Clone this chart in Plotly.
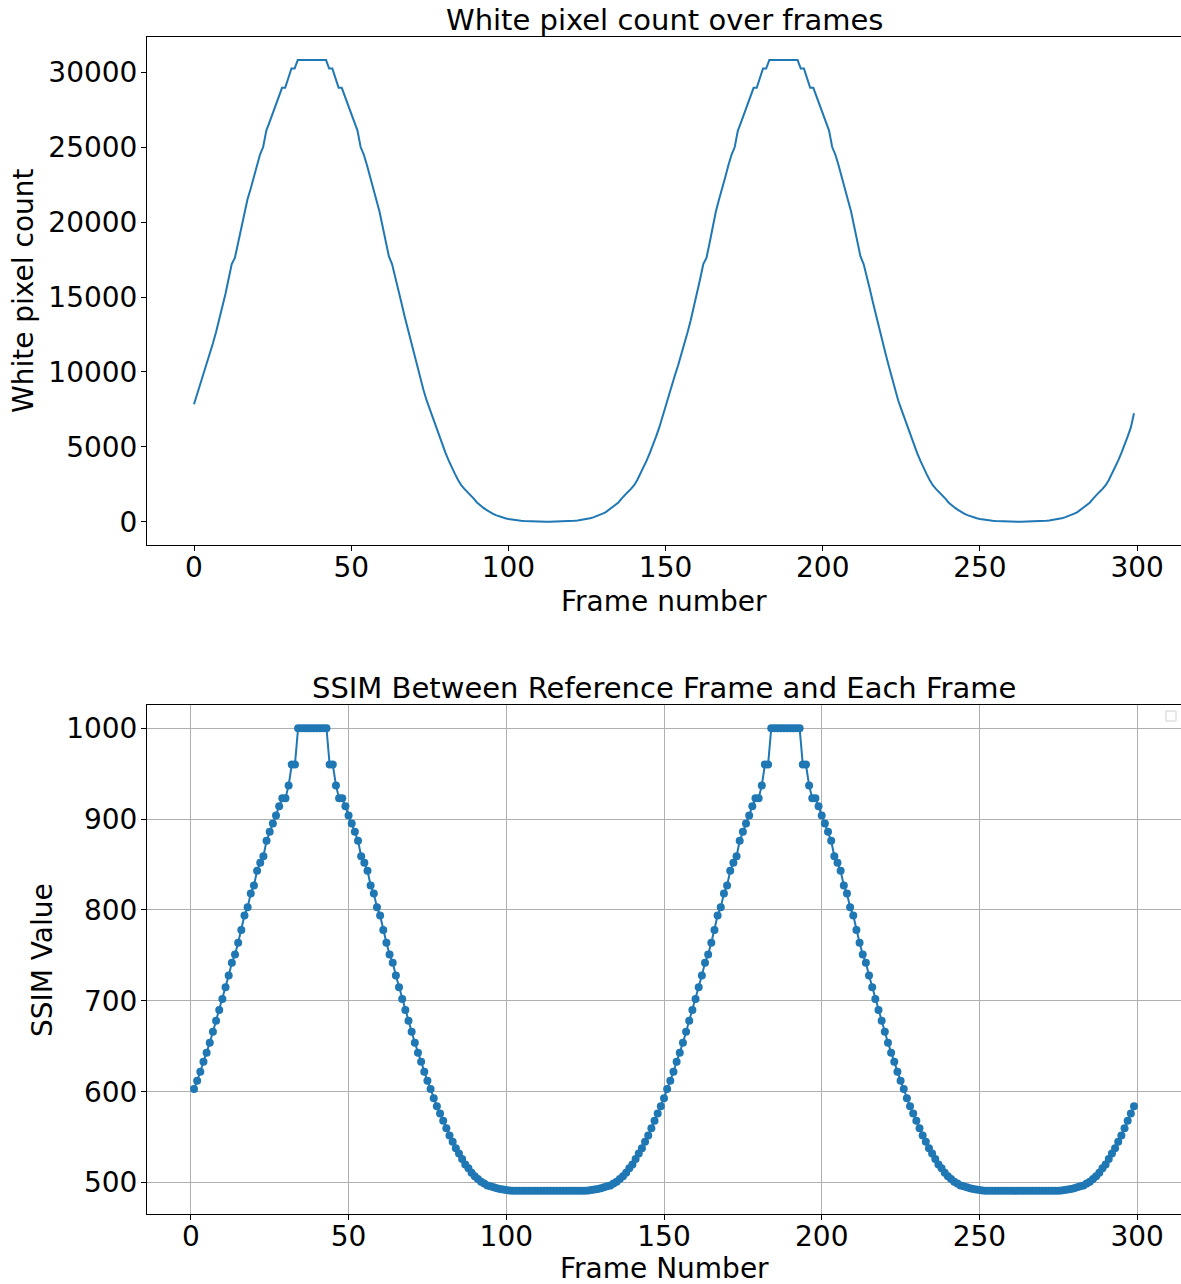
import plotly.graph_objects as go

# ---------------- data ----------------
frames_white = list(range(0, 300))
white_pixel_count = [
    7850, 8500, 9150, 9800, 10450, 11150, 11900, 12650, 13450, 14300,
    15200, 16200, 17200, 17600, 18600, 19700, 20700, 21500, 22200, 23000,
    23800, 24500, 25000, 26100, 26650, 27250, 27800, 28400, 28950, 28950,
    29600, 30240, 30240, 30800, 30800, 30800, 30800, 30800, 30800, 30800,
    30800, 30800, 30800, 30240, 30240, 29600, 28950, 28950, 28400, 27800,
    27250, 26650, 26100, 25000, 24500, 23800, 23000, 22200, 21500, 20700,
    19700, 18600, 17700, 17200, 16400, 15500, 14600, 13700, 12850, 12000,
    11200, 10400, 9600, 8800, 8100, 7500, 6900, 6300, 5700, 5100,
    4600, 4100, 3600, 3200, 2800, 2450, 2200, 2000, 1800, 1550,
    1300, 1100, 950, 800, 650, 550, 450, 370, 300, 240,
    190, 150, 120, 95, 75, 60, 45, 35, 25, 18,
    12, 8, 5, 5, 8, 12, 18, 25, 35, 45,
    60, 75, 95, 120, 150, 190, 240, 300, 370, 450,
    550, 650, 800, 950, 1100, 1300, 1550, 1800, 2000, 2200,
    2450, 2800, 3200, 3600, 4100, 4600, 5100, 5700, 6300, 7000,
    7850, 8500, 9150, 9800, 10450, 11150, 11900, 12650, 13450, 14300,
    15200, 16200, 17200, 17600, 18600, 19700, 20700, 21500, 22200, 23000,
    23800, 24500, 25000, 26100, 26650, 27250, 27800, 28400, 28950, 28950,
    29600, 30240, 30240, 30800, 30800, 30800, 30800, 30800, 30800, 30800,
    30800, 30800, 30800, 30240, 30240, 29600, 28950, 28950, 28400, 27800,
    27250, 26650, 26100, 25000, 24500, 23800, 23000, 22200, 21500, 20700,
    19700, 18600, 17700, 17200, 16400, 15500, 14600, 13700, 12850, 12000,
    11200, 10400, 9600, 8800, 8100, 7500, 6900, 6300, 5700, 5100,
    4600, 4100, 3600, 3200, 2800, 2450, 2200, 2000, 1800, 1550,
    1300, 1100, 950, 800, 650, 550, 450, 370, 300, 240,
    190, 150, 120, 95, 75, 60, 45, 35, 25, 18,
    12, 8, 5, 5, 8, 12, 18, 25, 35, 45,
    60, 75, 95, 120, 150, 190, 240, 300, 370, 450,
    550, 650, 800, 950, 1100, 1300, 1550, 1800, 2000, 2200,
    2450, 2800, 3200, 3600, 4100, 4600, 5100, 5700, 6300, 7250,
]

frames_ssim = list(range(1, 300))
ssim_values = [
    603, 612, 622, 633, 643, 654, 666, 678, 690, 702,
    715, 728, 742, 751, 764, 778, 794, 803, 818, 827,
    843, 852, 859, 876, 886, 895, 904, 914, 923, 923,
    937, 960, 960, 1000, 1000, 1000, 1000, 1000, 1000, 1000,
    1000, 1000, 1000, 960, 960, 937, 923, 923, 914, 904,
    895, 886, 876, 859, 852, 843, 827, 818, 803, 794,
    778, 764, 751, 742, 728, 715, 702, 690, 678, 666,
    654, 643, 633, 622, 612, 603, 593, 584, 576, 568,
    560, 552, 545, 538, 532, 526, 520, 516, 511, 507,
    504, 501, 499, 497, 496, 495, 494, 493, 492.5, 492,
    491.5, 491, 491, 491, 491, 491, 491, 491, 491, 491,
    491, 491, 491, 491, 491, 491, 491, 491, 491, 491,
    491, 491, 491, 491, 491, 491.5, 492, 492.5, 493, 494,
    495, 496, 497, 499, 501, 504, 507, 511, 516, 520,
    526, 532, 538, 545, 552, 560, 568, 576, 584, 593,
    603, 612, 622, 633, 643, 654, 666, 678, 690, 702,
    715, 728, 742, 751, 764, 778, 794, 803, 818, 827,
    843, 852, 859, 876, 886, 895, 904, 914, 923, 923,
    937, 960, 960, 1000, 1000, 1000, 1000, 1000, 1000, 1000,
    1000, 1000, 1000, 960, 960, 937, 923, 923, 914, 904,
    895, 886, 876, 859, 852, 843, 827, 818, 803, 794,
    778, 764, 751, 742, 728, 715, 702, 690, 678, 666,
    654, 643, 633, 622, 612, 603, 593, 584, 576, 568,
    560, 552, 545, 538, 532, 526, 520, 516, 511, 507,
    504, 501, 499, 497, 496, 495, 494, 493, 492.5, 492,
    491.5, 491, 491, 491, 491, 491, 491, 491, 491, 491,
    491, 491, 491, 491, 491, 491, 491, 491, 491, 491,
    491, 491, 491, 491, 491, 491.5, 492, 492.5, 493, 494,
    495, 496, 497, 499, 501, 504, 507, 511, 516, 520,
    526, 532, 538, 545, 552, 560, 568, 576, 584,
]

x_ticks = [0, 50, 100, 150, 200, 250, 300]
white_ticks = [0, 5000, 10000, 15000, 20000, 25000, 30000]
ssim_ticks = [500, 600, 700, 800, 900, 1000]

title_top = "White pixel count over frames"
xlabel_top = "Frame number"
ylabel_top = "White pixel count"
title_bottom = "SSIM Between Reference Frame and Each Frame"
xlabel_bottom = "Frame Number"
ylabel_bottom = "SSIM Value"

# ---------------- figure ----------------
W, H = 1181, 1284
BLUE = "#1f77b4"
FONT = "DejaVu Sans"
FS = 28

fig = go.Figure()
fig.add_trace(go.Scatter(x=frames_white, y=white_pixel_count, mode="lines",
                         line=dict(color=BLUE, width=2), xaxis="x", yaxis="y",
                         showlegend=False))
fig.add_trace(go.Scatter(x=frames_ssim, y=ssim_values, mode="lines+markers",
                         line=dict(color=BLUE, width=2),
                         marker=dict(color=BLUE, size=8),
                         xaxis="x2", yaxis="y2", showlegend=False))

xdom = [147 / W, 1.0]
ydom_top = [1 - 545 / H, 1 - 37 / H]
ydom_bot = [1 - 1214 / H, 1 - 705 / H]

axis_common = dict(
    ticks="outside", ticklen=5, tickwidth=1, tickcolor="black",
    showline=True, linecolor="black", linewidth=1, mirror=True,
    zeroline=False, tickfont=dict(family=FONT, size=FS, color="black"),
)
xaxis_extra = dict(ticklabelstandoff=-8)
yaxis_extra = dict(ticklabelstandoff=-2)

fig.update_layout(
    width=W, height=H,
    margin=dict(l=0, r=0, t=0, b=0),
    paper_bgcolor="white", plot_bgcolor="white",
    font=dict(family=FONT, size=FS, color="black"),
    xaxis=dict(domain=xdom, anchor="y", range=[-14.95, 313.95],
               tickvals=x_ticks, showgrid=False, **axis_common, **xaxis_extra),
    yaxis=dict(domain=ydom_top, anchor="x", range=[-1540, 32340],
               tickvals=white_ticks, tickformat="d", showgrid=False,
               **axis_common, **yaxis_extra),
    xaxis2=dict(domain=xdom, anchor="y2", range=[-13.9, 313.9],
                tickvals=x_ticks, showgrid=True, gridcolor="#b0b0b0",
                gridwidth=1, **axis_common, **xaxis_extra),
    yaxis2=dict(domain=ydom_bot, anchor="x2", range=[465.55, 1025.45],
                tickvals=ssim_ticks, tickformat="d", showgrid=True,
                gridcolor="#b0b0b0", gridwidth=1, **axis_common, **yaxis_extra),
)

def ann(text, xpx, ypx, angle=0, size=FS):
    fig.add_annotation(text=text, x=xpx / W, y=1 - ypx / H, xref="paper",
                       yref="paper", showarrow=False, textangle=angle,
                       xanchor="center", yanchor="middle",
                       font=dict(family=FONT, size=size, color="black"))

ann(title_top, 664, 20, size=29)
ann(xlabel_top, 664, 601)
ann(ylabel_top, 24, 291, -90)
ann(title_bottom, 664, 688, size=29)
ann(xlabel_bottom, 664, 1268)
ann(ylabel_bottom, 42, 960, -90)

# empty legend frame (as in the reference)
fig.add_shape(type="rect", xref="paper", yref="paper",
              x0=1166 / W, x1=1176 / W, y0=1 - 721 / H, y1=1 - 711 / H,
              line=dict(color="#d0d0d0", width=1), fillcolor="white")

fig.write_html(
    "out.html",
    config={"displayModeBar": False},
    post_script="document.body.style.margin='0';document.documentElement.style.margin='0';",
)
